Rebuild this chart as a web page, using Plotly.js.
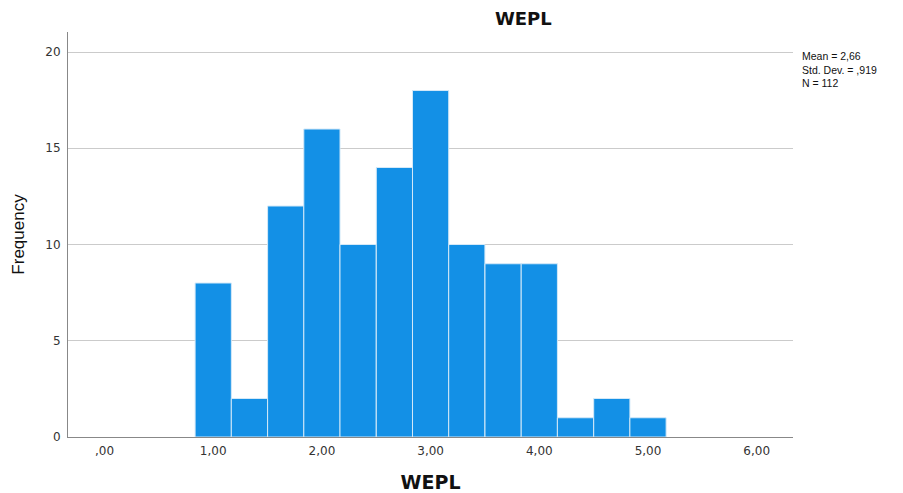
<!DOCTYPE html>
<html>
<head>
<meta charset="utf-8">
<script src="https://cdn.plot.ly/plotly-3.0.1.min.js"></script>
<style>html,body{margin:0;padding:0;background:#fff;}#chart{width:903px;height:493px;}</style>
</head>
<body>
<div id="chart"></div>
<script>
var binCenters = [1.0, 1.333, 1.667, 2.0, 2.333, 2.667, 3.0, 3.333, 3.667, 4.0, 4.333, 4.667, 5.0];
var frequencies = [8, 2, 12, 16, 10, 14, 18, 10, 9, 9, 1, 2, 1];
var xTickVals = [0, 1, 2, 3, 4, 5, 6];
var xTickText = [",00", "1,00", "2,00", "3,00", "4,00", "5,00", "6,00"];
var yTickVals = [0, 5, 10, 15, 20];
var statsLines = ["Mean = 2,66", "Std. Dev. = ,919", "N = 112"];

var trace = {
  type: 'bar',
  x: binCenters,
  y: frequencies,
  width: 1/3,
  marker: {color: '#1390e6', line: {color: '#d4e9f8', width: 1}},
  hoverinfo: 'x+y'
};

var layout = {
  width: 903, height: 493,
  margin: {l: 68, r: 110, t: 32, b: 56},
  paper_bgcolor: '#fff', plot_bgcolor: '#fff',
  font: {family: 'DejaVu Sans, sans-serif', color: '#222'},
  showlegend: false,
  bargap: 0,
  title: {
    text: '<b>WEPL</b>', xref: 'paper', x: 0.628, xanchor: 'center',
    yref: 'container', y: 0.963, yanchor: 'middle',
    font: {family: 'DejaVu Sans, sans-serif', size: 18, color: '#111'}
  },
  xaxis: {
    range: [-0.336, 6.334],
    tickvals: xTickVals, ticktext: xTickText,
    showgrid: false, zeroline: false,
    showline: true, linecolor: '#888', linewidth: 1,
    ticks: '', ticklabelstandoff: 3,
    tickfont: {family: 'DejaVu Sans, sans-serif', size: 12, color: '#333'},
    title: {text: '<b>WEPL</b>', font: {family: 'DejaVu Sans, sans-serif', size: 19, color: '#111'}, standoff: 20}
  },
  yaxis: {
    range: [0, 21.04],
    tickvals: yTickVals,
    showgrid: true, gridcolor: '#cbcbcb', gridwidth: 1,
    zeroline: false,
    showline: true, linecolor: '#888', linewidth: 1,
    ticks: '', ticklabelstandoff: 4,
    tickfont: {family: 'DejaVu Sans, sans-serif', size: 12, color: '#333'},
    title: {text: 'Frequency', font: {family: 'Liberation Sans, Arial, sans-serif', size: 17, color: '#111'}, standoff: 16}
  },
  annotations: [{
    xref: 'paper', yref: 'paper',
    x: 1.011, y: 0.907, xanchor: 'left', yanchor: 'middle', align: 'left',
    showarrow: false, borderpad: 0,
    text: statsLines.join('<br>'),
    font: {family: 'Liberation Sans, Arial, sans-serif', size: 10.5, color: '#111'}
  }]
};

Plotly.newPlot('chart', [trace], layout, {displayModeBar: false, staticPlot: true});
</script>
</body>
</html>
